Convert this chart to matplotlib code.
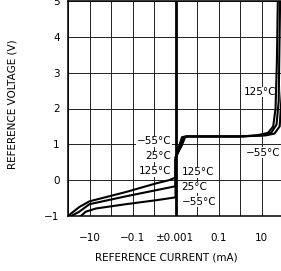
import matplotlib
matplotlib.use('Agg')
import matplotlib.pyplot as plt
import numpy as np

# Reference current (mA) and reference voltage (V)
i_125 = [-100, -30, -10, -0.2, -0.008, -0.002, -0.001, 0.001, 0.0013, 0.002, 0.003, 1, 6, 20, 35, 45, 52, 58]
v_125 = [-1.0, -0.75, -0.59, -0.33, -0.09, 0.0, 0.07, 0.55, 0.85, 1.2, 1.22, 1.22, 1.25, 1.32, 1.5, 2.0, 3.3, 5.2]

i_25 = [-100, -30, -10, -0.2, -0.008, -0.001, 0.001, 0.0016, 0.0024, 0.0032, 1, 10, 28, 50, 63, 74]
v_25 = [-1.05, -0.88, -0.67, -0.45, -0.28, -0.17, 0.6, 0.9, 1.2, 1.22, 1.22, 1.25, 1.32, 1.55, 2.2, 5.2]

i_m55 = [-100, -30, -15, -5, -0.2, -0.008, -0.001, 0.001, 0.0019, 0.0028, 0.0035, 1, 16, 40, 70, 89, 100]
v_m55 = [-1.2, -1.04, -0.88, -0.79, -0.67, -0.56, -0.48, 0.65, 0.95, 1.2, 1.22, 1.22, 1.25, 1.3, 1.5, 2.5, 4.0]

x_ticks = [-10, -0.1, 0, 0.1, 10]
x_labels = ['\u221210', '\u22120.1', '\u00b10.001', '0.1', '10']
x_minor = [-100, -1, -0.01, 0.01, 1, 100]
y_ticks = [-1, 0, 1, 2, 3, 4, 5]
y_labels = ['\u22121', '0', '1', '2', '3', '4', '5']


def fwd(x):
    x = np.asarray(x, float)
    a = np.maximum(np.abs(x), 1e-3)
    return np.sign(x) * (np.log10(a) + 3)


def inv(p):
    p = np.asarray(p, float)
    return np.sign(p) * 10 ** (np.abs(p) - 3)


fig = plt.figure(figsize=(2.81, 2.71), dpi=100)
ax = fig.add_axes([68 / 281, 55 / 271, 215 / 281, 215 / 271])
ax.set_xscale('function', functions=(fwd, inv))
ax.set_xlim(-100, 100)
ax.set_ylim(-1, 5)

fs = 7.5
ax.set_xticks(x_ticks)
ax.set_xticklabels(x_labels, fontsize=fs)
ax.set_xticks(x_minor, minor=True)
ax.set_yticks(y_ticks)
ax.set_yticklabels(y_labels, fontsize=fs)
ax.tick_params(axis='both', which='both', length=0)
ax.tick_params(axis='x', pad=12)
ax.tick_params(axis='y', pad=6)
ax.grid(True, which='both', color='#222222', linewidth=0.7)
ax.set_axisbelow(True)
ax.axvline(0, color='black', linewidth=2.0, zorder=2)
for s in ax.spines.values():
    s.set_linewidth(1.1)

for xs, ys in [(i_125, v_125), (i_25, v_25), (i_m55, v_m55)]:
    ax.plot(xs, ys, color='black', linewidth=1.5, zorder=3, solid_joinstyle='round')

bb = dict(facecolor='white', edgecolor='none', pad=0.3)
kw = dict(fontsize=fs, color='black', va='center', bbox=bb, zorder=4)
xl = inv(-0.2)
ax.text(xl, 1.09, '\u221255\u00b0C', ha='right', **kw)
ax.text(xl, 0.67, '25\u00b0C', ha='right', **kw)
ax.text(xl, 0.25, '125\u00b0C', ha='right', **kw)
xr = inv(0.28)
ax.text(xr, 0.22, '125\u00b0C', ha='left', **kw)
ax.text(xr, -0.2, '25\u00b0C', ha='left', **kw)
ax.text(xr, -0.6, '\u221255\u00b0C', ha='left', **kw)
ax.text(inv(3.2), 2.46, '125\u00b0C', ha='left', fontsize=fs, va='center', bbox=bb, zorder=2.5)
ax.text(inv(3.26), 0.77, '\u221255\u00b0C', ha='left', fontsize=fs, va='center', bbox=bb, zorder=2.5)

fig.text(166 / 281, 1 - 257 / 271, 'REFERENCE CURRENT (mA)', ha='center', va='center', fontsize=fs)
fig.text(13 / 281, 1 - 104 / 271, 'REFERENCE VOLTAGE (V)', ha='center', va='center', rotation=90, fontsize=fs)

fig.savefig('out.png', dpi=100)
